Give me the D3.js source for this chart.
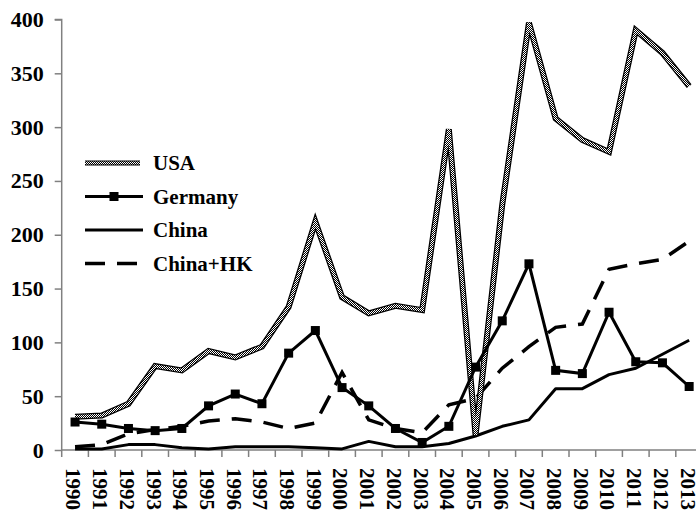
<!DOCTYPE html>
<html lang="en">
<head>
    <meta charset="UTF-8">
    <script src="https://cdnjs.cloudflare.com/ajax/libs/d3/7.8.5/d3.min.js"></script>
    <style>
        body { margin: 0; background: #fff; }
        text { font-family: "Times New Roman", "Liberation Serif", serif; font-weight: bold; }
    </style>
</head>
<body>
    <svg id="chart" width="696" height="512"></svg>
    <script>
        const years = d3.range(1990, 2014).map(String);
        const usa = [31, 32, 43, 78, 74, 92, 86, 96, 133, 212, 142, 127, 134, 130, 298, 14, 228, 397, 308, 288, 277, 390, 369, 338];
        const germany = [26, 24, 20, 18, 20, 41, 52, 43, 90, 111, 58, 41, 20, 7, 22, 77, 120, 173, 74, 71, 128, 82, 81, 59];
        const china = [1, 1, 5, 5, 2, 1, 3, 3, 3, 2, 1, 8, 3, 3, 6, 13, 22, 28, 57, 57, 70, 76, 89, 102];
        const chinaHK = [3, 5, 15, 19, 22, 27, 29, 26, 20, 25, 72, 28, 20, 16, 42, 48, 76, 96, 114, 117, 168, 173, 177, 194];
        const yTicks = [0, 50, 100, 150, 200, 250, 300, 350, 400];
        const seriesNames = ["USA", "Germany", "China", "China+HK"];

        const svg = d3.select("#chart");
        const left = 61.7, band = 26.7;

        const x = d3.scaleBand().domain(years).range([left, left + band * years.length]);
        const y = d3.scaleLinear().domain([0, 400]).range([450, 19.5]);

        // checker pattern for the USA line
        const pat = svg.append("defs").append("pattern")
            .attr("id", "checker")
            .attr("patternUnits", "userSpaceOnUse")
            .attr("width", 2).attr("height", 2);
        pat.append("rect").attr("width", 2).attr("height", 2).attr("fill", "#000");
        pat.append("rect").attr("width", 1).attr("height", 1).attr("fill", "#fff");
        pat.append("rect").attr("x", 1).attr("y", 1).attr("width", 1).attr("height", 1).attr("fill", "#fff");

        // y axis
        const yAxis = d3.axisLeft(y).tickValues(yTicks).tickSize(7).tickPadding(11);
        const gy = svg.append("g").attr("transform", `translate(${left},0)`).call(yAxis);
        gy.select(".domain").attr("stroke", "#808080").attr("stroke-width", 1.5).attr("d", `M-7,${y(400)}H0V${y(0)}`);
        gy.selectAll(".tick line").attr("stroke", "#808080").attr("stroke-width", 1.5);
        gy.selectAll(".tick text").attr("fill", "#000").style("font-size", "22px");

        // x axis: ticks between categories, rotated labels
        const xAxis = d3.axisBottom(x).tickSize(0).tickPadding(0);
        const gx = svg.append("g").attr("transform", "translate(0,450)").call(xAxis);
        gx.select(".domain").attr("stroke", "#808080").attr("stroke-width", 1.5).attr("d", `M${left},0H696`);
        gx.selectAll(".tick text")
            .attr("fill", "#000")
            .style("font-size", "21px")
            .attr("text-anchor", "start")
            .attr("transform", "translate(-1,18) rotate(90)")
            .attr("x", 0).attr("y", 0).attr("dy", "0.36em");
        gx.selectAll("line.sep")
            .data(years)
            .enter()
            .append("line")
            .attr("class", "sep")
            .attr("x1", d => x(d)).attr("x2", d => x(d))
            .attr("y1", 0).attr("y2", 7)
            .attr("stroke", "#808080").attr("stroke-width", 1.5);

        const line = vals => d3.line()
            .x((d, i) => x(years[i]) + x.bandwidth() / 2)
            .y(d => y(d))(vals);

        // China+HK
        svg.append("path").attr("d", line(chinaHK))
            .attr("fill", "none").attr("stroke", "#000").attr("stroke-width", 3.5)
            .attr("stroke-dasharray", "20,12");
        // China
        svg.append("path").attr("d", line(china))
            .attr("fill", "none").attr("stroke", "#000").attr("stroke-width", 3)
            .attr("stroke-linejoin", "round");
        // USA
        svg.append("path").attr("d", line(usa))
            .attr("fill", "none").attr("stroke", "#000").attr("stroke-width", 6);
        svg.append("path").attr("d", line(usa))
            .attr("fill", "none").attr("stroke", "url(#checker)").attr("stroke-width", 3.5);
        // Germany
        svg.append("path").attr("d", line(germany))
            .attr("fill", "none").attr("stroke", "#000").attr("stroke-width", 3);
        svg.selectAll("rect.germany")
            .data(germany)
            .enter()
            .append("rect")
            .attr("class", "germany")
            .attr("x", (d, i) => x(years[i]) + x.bandwidth() / 2 - 4.5)
            .attr("y", d => y(d) - 4.5)
            .attr("width", 9).attr("height", 9)
            .attr("fill", "#000");

        // legend
        const lg = svg.append("g");
        const rowY = [163, 196.5, 230, 263.5];
        seriesNames.forEach((name, i) => {
            const ry = rowY[i];
            if (i === 0) {
                lg.append("line").attr("x1", 85).attr("x2", 140).attr("y1", ry).attr("y2", ry)
                    .attr("stroke", "#000").attr("stroke-width", 5);
                lg.append("line").attr("x1", 85).attr("x2", 140).attr("y1", ry).attr("y2", ry)
                    .attr("stroke", "url(#checker)").attr("stroke-width", 3);
            } else if (i === 1) {
                lg.append("line").attr("x1", 85).attr("x2", 143).attr("y1", ry).attr("y2", ry)
                    .attr("stroke", "#000").attr("stroke-width", 3);
                lg.append("rect").attr("x", 114 - 4.5).attr("y", ry - 4.5).attr("width", 9).attr("height", 9).attr("fill", "#000");
            } else if (i === 2) {
                lg.append("line").attr("x1", 85).attr("x2", 143).attr("y1", ry).attr("y2", ry)
                    .attr("stroke", "#000").attr("stroke-width", 3);
            } else {
                lg.append("line").attr("x1", 85).attr("x2", 143).attr("y1", ry).attr("y2", ry)
                    .attr("stroke", "#000").attr("stroke-width", 3.5).attr("stroke-dasharray", "20,12");
            }
            lg.append("text").attr("x", 153).attr("y", ry).attr("dy", "0.35em")
                .style("font-size", "21px").text(name);
        });
    </script>
</body>
</html>
